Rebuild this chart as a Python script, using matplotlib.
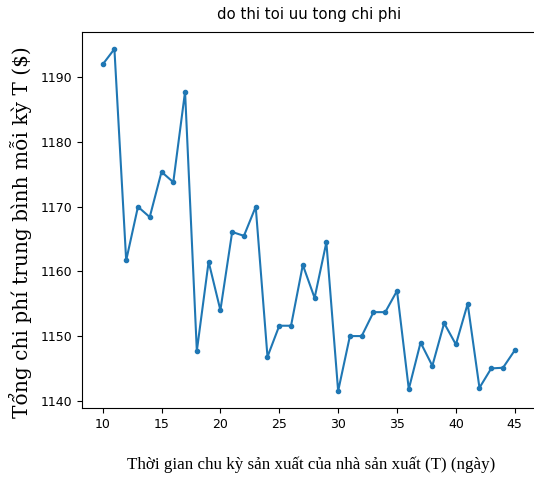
import matplotlib
matplotlib.use('Agg')
import matplotlib.pyplot as plt

# chu ky san xuat T (ngay)
T = list(range(10, 46))
# tong chi phi trung binh moi ky
cost = [1192.0, 1194.4, 1161.7, 1170.0, 1168.4, 1175.4, 1173.8, 1187.8,
        1147.7, 1161.5, 1154.0, 1166.1, 1165.5, 1170.0, 1146.8, 1151.6,
        1151.6, 1161.0, 1155.9, 1164.5, 1141.5, 1150.0, 1150.0, 1153.7,
        1153.7, 1157.0, 1141.8, 1149.0, 1145.4, 1152.0, 1148.7, 1155.0,
        1142.0, 1145.0, 1145.1, 1147.8]

fig = plt.figure(figsize=(5.34, 4.83), dpi=100)
ax = fig.add_axes([0.1536, 0.155, 0.849, 0.779])

ax.plot(T, cost, marker='.', markersize=6, color='tab:blue', linewidth=1.5)
ax.set_title('do thi toi uu tong chi phi', fontsize=10.7, pad=9)
ax.tick_params(labelsize=9)

fig.text(0.583, 0.038, 'Thời gian chu kỳ sản xuất của nhà sản xuất (T) (ngày)',
         family='Liberation Serif', fontsize=12.2, ha='center', va='center')
fig.text(0.038, 0.52, 'Tổng chi phí trung bình mỗi kỳ T ($)',
         family='DejaVu Serif', fontsize=14.5,
         rotation=90, ha='center', va='center')

fig.savefig('out.png', dpi=100)
